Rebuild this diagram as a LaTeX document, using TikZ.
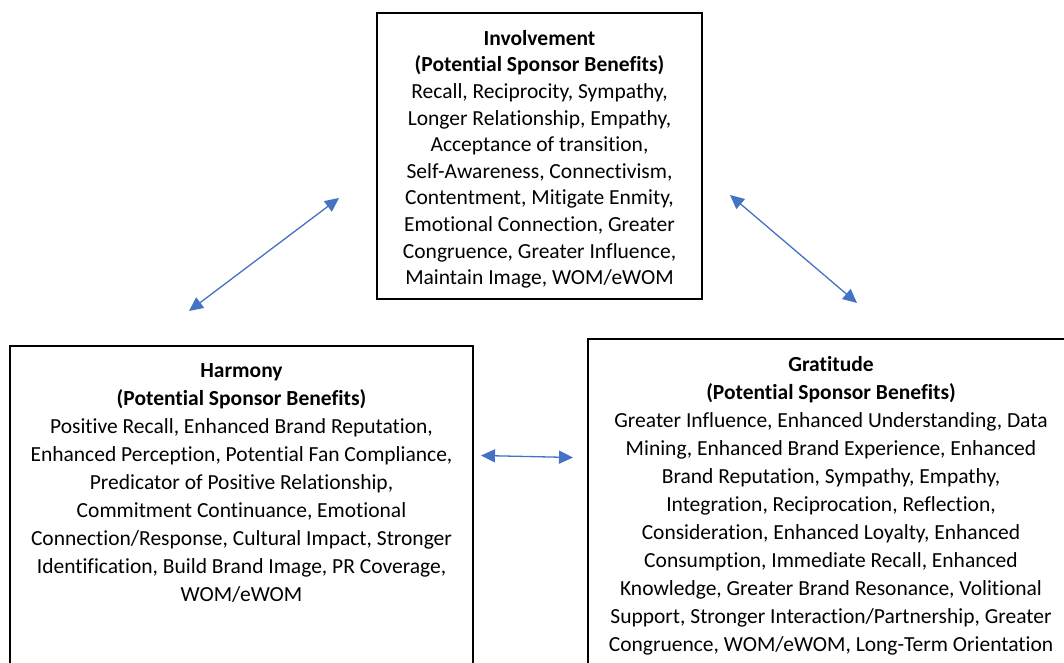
\documentclass[tikz,border=0pt]{standalone}
\usepackage{fontspec}
\setmainfont{Carlito}[Ligatures={NoCommon,NoContextual}]
\usetikzlibrary{arrows.meta}
\definecolor{linkblue}{HTML}{4472C4}
\begin{document}
\begin{tikzpicture}[x=1pt,y=-1pt,
  panel/.style={draw=black, line width=1.8pt, inner sep=0pt, fill=none},
  body/.style={align=center, inner sep=0pt, anchor=north, font=\fontsize{21.5}{28}\selectfont},
  link/.style={draw=linkblue, line width=1.3pt,
    {Triangle[length=14pt,width=13pt]}-{Triangle[length=14pt,width=13pt]}}]
\useasboundingbox (0,0) rectangle (1064,662);
\clip (0,0) rectangle (1064,662);

% the three benefit panels
\node[panel, minimum width=325pt, minimum height=286pt] (inv) at (539.5,156) {};
\node[panel, minimum width=463pt, minimum height=360pt] (har) at (241.5,526) {};
\node[panel, minimum width=486pt, minimum height=361pt] (gra) at (831,519.5) {};

% panel texts
\node[body, font=\fontsize{21.5}{26.6}\selectfont] (invt) at (539.5,30) {%
  \textbf{Involvement}\\
  \textbf{(Potential Sponsor Benefits)}\\
  Recall, Reciprocity, Sympathy,\\
  Longer Relationship, Empathy,\\
  Acceptance of transition,\\
  Self-Awareness, Connectivism,\\
  Contentment, Mitigate Enmity,\\
  Emotional Connection, Greater\\
  Congruence, Greater Influence,\\
  Maintain Image, WOM/eWOM};

\node[body] (hart) at (241.5,363) {%
  \textbf{Harmony}\\
  \textbf{(Potential Sponsor Benefits)}\\
  Positive Recall, Enhanced Brand Reputation,\\
  Enhanced Perception, Potential Fan Compliance,\\
  Predicator of Positive Relationship,\\
  Commitment Continuance, Emotional\\
  Connection/Response, Cultural Impact, Stronger\\
  Identification, Build Brand Image, PR Coverage,\\
  WOM/eWOM};

\node[body] (grat) at (831,356) {%
  \textbf{Gratitude}\\
  \textbf{(Potential Sponsor Benefits)}\\
  Greater Influence, Enhanced Understanding, Data\\
  Mining, Enhanced Brand Experience, Enhanced\\
  Brand Reputation, Sympathy, Empathy,\\
  Integration, Reciprocation, Reflection,\\
  Consideration, Enhanced Loyalty, Enhanced\\
  Consumption, Immediate Recall, Enhanced\\
  Knowledge, Greater Brand Resonance, Volitional\\
  Support, Stronger Interaction/Partnership, Greater\\
  Congruence, WOM/eWOM, Long-Term Orientation};

% two-way links between the panels
\coordinate (l1a) at (189,311);
\coordinate (l1b) at (339,198);
\coordinate (l2a) at (730,195);
\coordinate (l2b) at (857,303);
\coordinate (l3a) at (481,455.5);
\coordinate (l3b) at (573,457.5);
\draw[link] (l1a) -- (l1b);
\draw[link] (l2a) -- (l2b);
\draw[link] (l3a) -- (l3b);
\end{tikzpicture}
\end{document}
